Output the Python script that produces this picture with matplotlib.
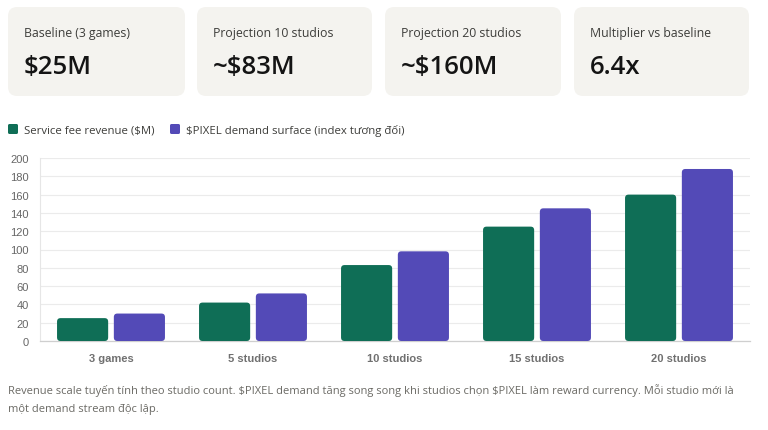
import matplotlib
matplotlib.use("Agg")
import matplotlib.pyplot as plt
from matplotlib.patches import FancyBboxPatch
import numpy as np

categories = ["3 games", "5 studios", "10 studios", "15 studios", "20 studios"]
revenue = [25, 42, 83, 125, 160]
pixel_demand = [30, 52, 98, 145, 188]
series_names = ["Service fee revenue ($M)", "$PIXEL demand surface (index tương đối)"]
card_titles = ["Baseline (3 games)", "Projection 10 studios", "Projection 20 studios", "Multiplier vs baseline"]
card_values = ["$25M", "~$83M", "~$160M", "6.4x"]
yticks = list(range(0, 201, 20))
footer = ("Revenue scale tuyến tính theo studio count. $PIXEL demand tăng song song khi studios chọn $PIXEL làm reward currency. Mỗi studio mới là\n"
          "một demand stream độc lập.")

GREEN = "#0f6e56"
PURPLE = "#534ab7"
W, H = 768, 431
UI = ["Open Sans", "Noto Sans", "DejaVu Sans"]
TICK = ["Liberation Sans", "DejaVu Sans"]

fig = plt.figure(figsize=(W / 100, H / 100), dpi=100)
fig.patch.set_facecolor("white")

def fx(px):
    return px / W

def fy(py):
    return 1 - py / H

# KPI cards
card_x = [(8, 185), (197, 372), (385, 561), (574, 749)]
for (x0, x1), t, v in zip(card_x, card_titles, card_values):
    box = FancyBboxPatch((fx(x0), fy(97)), fx(x1 - x0), (97 - 8) / H,
                         boxstyle="round,pad=0,rounding_size=0.012",
                         mutation_aspect=W / H,
                         transform=fig.transFigure, facecolor="#f4f3ef",
                         edgecolor="none", zorder=0)
    fig.patches.append(box)
    fig.text(fx(x0 + 16), fy(34), t, fontsize=8.8, color="#3d3d3a",
             family=UI, va="center", ha="left", parse_math=False)
    fig.text(fx(x0 + 16), fy(67), v, fontsize=18.5, color="#141414",
             family=UI, va="center", ha="left", fontweight="semibold",
             parse_math=False)

# Legend
for (sx, tx), name, col in zip([(8, 24), (170, 186)], series_names, [GREEN, PURPLE]):
    sq = FancyBboxPatch((fx(sx), fy(135)), fx(10), 10 / H,
                        boxstyle="round,pad=0,rounding_size=0.002",
                        mutation_aspect=W / H,
                        transform=fig.transFigure, facecolor=col, edgecolor="none")
    fig.patches.append(sq)
    fig.text(fx(tx), fy(131), name, fontsize=8.2, color="#3d3d3a",
             family=UI, va="center", ha="left", parse_math=False)

# Chart axes
ax = fig.add_axes([fx(40), fy(342), fx(750 - 40), (342 - 159) / H])
x = np.arange(len(categories))
bw = 0.36
off = 0.2
b1 = ax.bar(x - off, revenue, bw, color=GREEN, zorder=3)
b2 = ax.bar(x + off, pixel_demand, bw, color=PURPLE, zorder=3)

ax.set_xlim(-0.5, len(categories) - 0.5)
ax.set_ylim(0, 200)

# Rounded bars derived from bar geometry
x_per_px = 5 / 710.0
y_per_px = 200 / 183.0
for bars in (b1, b2):
    for p in bars:
        p.set_visible(False)
        rb = FancyBboxPatch((p.get_x(), p.get_y()), p.get_width(), p.get_height(),
                            boxstyle="round,pad=0,rounding_size=%f" % (3.5 * x_per_px),
                            mutation_aspect=y_per_px / x_per_px,
                            facecolor=p.get_facecolor(), edgecolor="none", zorder=3)
        ax.add_patch(rb)

ax.set_yticks(yticks)
ax.set_xticks(x)
ax.set_xticklabels(categories)
ax.yaxis.grid(True, color="#ebebeb", linewidth=0.8, zorder=0)
ax.set_axisbelow(True)
for s in ["top", "right"]:
    ax.spines[s].set_visible(False)
ax.spines["left"].set_color("#e6e6e6")
ax.spines["left"].set_linewidth(0.8)
ax.spines["bottom"].set_color("#cfcfcf")
ax.spines["bottom"].set_linewidth(0.9)
ax.tick_params(axis="y", length=0, pad=8, labelsize=8, labelcolor="#666666")
ax.tick_params(axis="x", length=0, pad=9, labelsize=8, labelcolor="#666666")
for lab in ax.get_yticklabels() + ax.get_xticklabels():
    lab.set_family(TICK)
for lab in ax.get_xticklabels():
    lab.set_fontweight("bold")
    lab.set_color("#707070")

fig.text(fx(8), fy(384), footer, fontsize=8.0, color="#6b6a65",
         family=UI, va="top", ha="left", linespacing=1.9, parse_math=False)

fig.savefig("out.png", dpi=100, facecolor="white")
